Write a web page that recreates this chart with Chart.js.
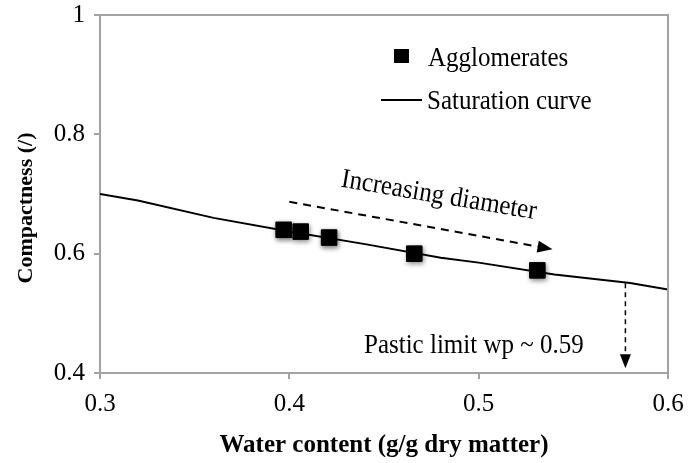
<!DOCTYPE html>
<html>
<head>
<meta charset="utf-8">
<script src="https://cdn.jsdelivr.net/npm/chart.js@4.4.1/dist/chart.umd.min.js"></script>
<style>
  body { margin: 0; background: #fff; }
  #wrap { width: 688px; height: 463px; }
</style>
</head>
<body>
<div id="wrap"><canvas id="chart"></canvas></div>
<script>
"use strict";
// agglomerates (measured points)
var aggloWater = [0.397, 0.406, 0.421, 0.466, 0.531];
var aggloCompact = [0.640, 0.637, 0.627, 0.600, 0.572];

// saturation curve
var curveWater = [0.30, 0.32, 0.36, 0.40, 0.44, 0.48, 0.50, 0.54, 0.58, 0.60];
var curveCompact = [0.700, 0.689, 0.660, 0.637, 0.616, 0.593, 0.585, 0.565, 0.551, 0.540];

var xTicks = [0.3, 0.4, 0.5, 0.6];
var yTicks = [0.4, 0.6, 0.8, 1];

// dashed arrows (data units)
var diamArrowX = [0.400, 0.539];
var diamArrowY = [0.687, 0.6075];
var limitArrowX = [0.5775, 0.5775];
var limitArrowY = [0.5503, 0.408];

var GRAY = "#a3a3a3";
var SERIF = "'Liberation Serif', 'Times New Roman', serif";

function toPoints(xs, ys) {
    return xs.map(function (v, i) { return { x: v, y: ys[i] }; });
}

function drawArrow(ctx, x1, y1, x2, y2, dash, width, headLen, headW) {
    var ang = Math.atan2(y2 - y1, x2 - x1);
    var bx = x2 - headLen * Math.cos(ang);
    var by = y2 - headLen * Math.sin(ang);
    ctx.save();
    ctx.strokeStyle = "#000";
    ctx.fillStyle = "#000";
    ctx.lineWidth = width;
    ctx.setLineDash(dash);
    ctx.beginPath();
    ctx.moveTo(x1, y1);
    ctx.lineTo(bx, by);
    ctx.stroke();
    ctx.setLineDash([]);
    ctx.beginPath();
    ctx.moveTo(x2, y2);
    ctx.lineTo(bx + headW / 2 * Math.sin(ang), by - headW / 2 * Math.cos(ang));
    ctx.lineTo(bx - headW / 2 * Math.sin(ang), by + headW / 2 * Math.cos(ang));
    ctx.closePath();
    ctx.fill();
    ctx.restore();
}

// text a bit taller than wide, like the original
function tallText(ctx, str, x, y) {
    ctx.save();
    ctx.translate(x, y);
    ctx.scale(1, 1.1);
    ctx.fillText(str, 0, 0);
    ctx.restore();
}

var extras = {
    id: "extras",
    beforeDatasetDraw: function (chart, args) {
        if (args.index === 0) {
            var ctx = chart.ctx;
            ctx.save();
            ctx.shadowColor = "rgba(0,0,0,0.55)";
            ctx.shadowBlur = 5;
            ctx.shadowOffsetX = 1;
            ctx.shadowOffsetY = 2;
        }
    },
    afterDatasetDraw: function (chart, args) {
        if (args.index === 0) chart.ctx.restore();
    },
    afterDraw: function (chart) {
        var ctx = chart.ctx, a = chart.chartArea;
        var sx = chart.scales.x, sy = chart.scales.y;

        // top and right frame
        ctx.save();
        ctx.strokeStyle = GRAY;
        ctx.lineWidth = 2;
        ctx.beginPath();
        ctx.moveTo(a.left - 1, a.top);
        ctx.lineTo(a.right, a.top);
        ctx.lineTo(a.right, a.bottom);
        ctx.stroke();
        ctx.restore();

        // arrows
        drawArrow(ctx,
            sx.getPixelForValue(diamArrowX[0]), sy.getPixelForValue(diamArrowY[0]),
            sx.getPixelForValue(diamArrowX[1]), sy.getPixelForValue(diamArrowY[1]),
            [8, 6], 2, 15, 12);
        drawArrow(ctx,
            sx.getPixelForValue(limitArrowX[0]), sy.getPixelForValue(limitArrowY[0]),
            sx.getPixelForValue(limitArrowX[1]), sy.getPixelForValue(limitArrowY[1]),
            [5, 4], 1.5, 14, 11);

        ctx.save();
        ctx.fillStyle = "#000";
        ctx.font = "25px " + SERIF;

        // Increasing diameter
        ctx.save();
        ctx.translate(sx.getPixelForValue(0.479), sy.getPixelForValue(0.697));
        ctx.rotate(9.5 * Math.PI / 180);
        ctx.scale(1, 1.1);
        ctx.textAlign = "center";
        ctx.textBaseline = "middle";
        ctx.fillText("Increasing diameter", 0, 0);
        ctx.restore();

        // plastic limit label
        ctx.textAlign = "left";
        ctx.textBaseline = "alphabetic";
        tallText(ctx, "Pastic limit wp ~ 0.59", 364, 353);

        // legend
        var ds = chart.data.datasets;
        ctx.fillStyle = "#000";
        ctx.fillRect(394, 49, 15, 14);
        tallText(ctx, ds[0].label, 428, 66);
        ctx.strokeStyle = "#000";
        ctx.lineWidth = 2;
        ctx.beginPath();
        ctx.moveTo(381, 100);
        ctx.lineTo(422, 100);
        ctx.stroke();
        tallText(ctx, ds[1].label, 427, 109);

        // y axis title
        ctx.save();
        ctx.translate(26, 208);
        ctx.rotate(-Math.PI / 2);
        ctx.textAlign = "center";
        ctx.textBaseline = "middle";
        ctx.font = "bold 22px " + SERIF;
        ctx.fillText("Compactness (/)", 0, 0);
        ctx.restore();

        ctx.restore();
    }
};

var ctx = document.getElementById("chart").getContext("2d");
var chart = new Chart(ctx, {
    type: "scatter",
    data: {
        datasets: [
            {
                label: "Agglomerates",
                data: toPoints(aggloWater, aggloCompact),
                pointStyle: "rect",
                pointRadius: 11,
                pointHoverRadius: 11,
                backgroundColor: "#000",
                borderColor: "#000",
                borderWidth: 1,
                showLine: false
            },
            {
                label: "Saturation curve",
                data: toPoints(curveWater, curveCompact),
                showLine: true,
                borderColor: "#000",
                borderWidth: 2,
                pointRadius: 0,
                fill: false,
                tension: 0
            }
        ]
    },
    options: {
        responsive: true,
        maintainAspectRatio: false,
        animation: false,
        layout: { padding: { top: 15, right: 20, left: 0, bottom: 0 } },
        plugins: {
            legend: { display: false },
            tooltip: { enabled: false }
        },
        scales: {
            x: {
                type: "linear",
                min: 0.3,
                max: 0.6,
                afterBuildTicks: function (axis) {
                    axis.ticks = xTicks.map(function (v) { return { value: v }; });
                },
                afterFit: function (axis) {
                    axis.height = 90;
                    axis.paddingLeft = 0;
                    axis.paddingRight = 0;
                },
                grid: {
                    drawOnChartArea: false,
                    drawTicks: true,
                    tickLength: 6,
                    color: GRAY,
                    lineWidth: 2
                },
                border: { display: true, color: GRAY, width: 2 },
                ticks: {
                    color: "#000",
                    padding: 10,
                    font: { family: SERIF, size: 25 },
                    maxRotation: 0,
                    callback: function (v) { return String(v); }
                },
                title: {
                    display: true,
                    text: "Water content (g/g dry matter)",
                    color: "#000",
                    font: { family: SERIF, size: 25, weight: "bold" },
                    padding: { top: 0, bottom: 2 }
                }
            },
            y: {
                type: "linear",
                min: 0.4,
                max: 1,
                afterBuildTicks: function (axis) {
                    axis.ticks = yTicks.map(function (v) { return { value: v }; });
                },
                afterFit: function (axis) {
                    axis.width = 100;
                    axis.paddingTop = 0;
                    axis.paddingBottom = 0;
                },
                grid: {
                    drawOnChartArea: false,
                    drawTicks: true,
                    tickLength: 6,
                    color: GRAY,
                    lineWidth: 2
                },
                border: { display: true, color: GRAY, width: 2 },
                ticks: {
                    color: "#000",
                    padding: 9,
                    font: { family: SERIF, size: 25 },
                    callback: function (v) { return String(v); }
                }
            }
        }
    },
    plugins: [extras]
});
</script>
</body>
</html>
